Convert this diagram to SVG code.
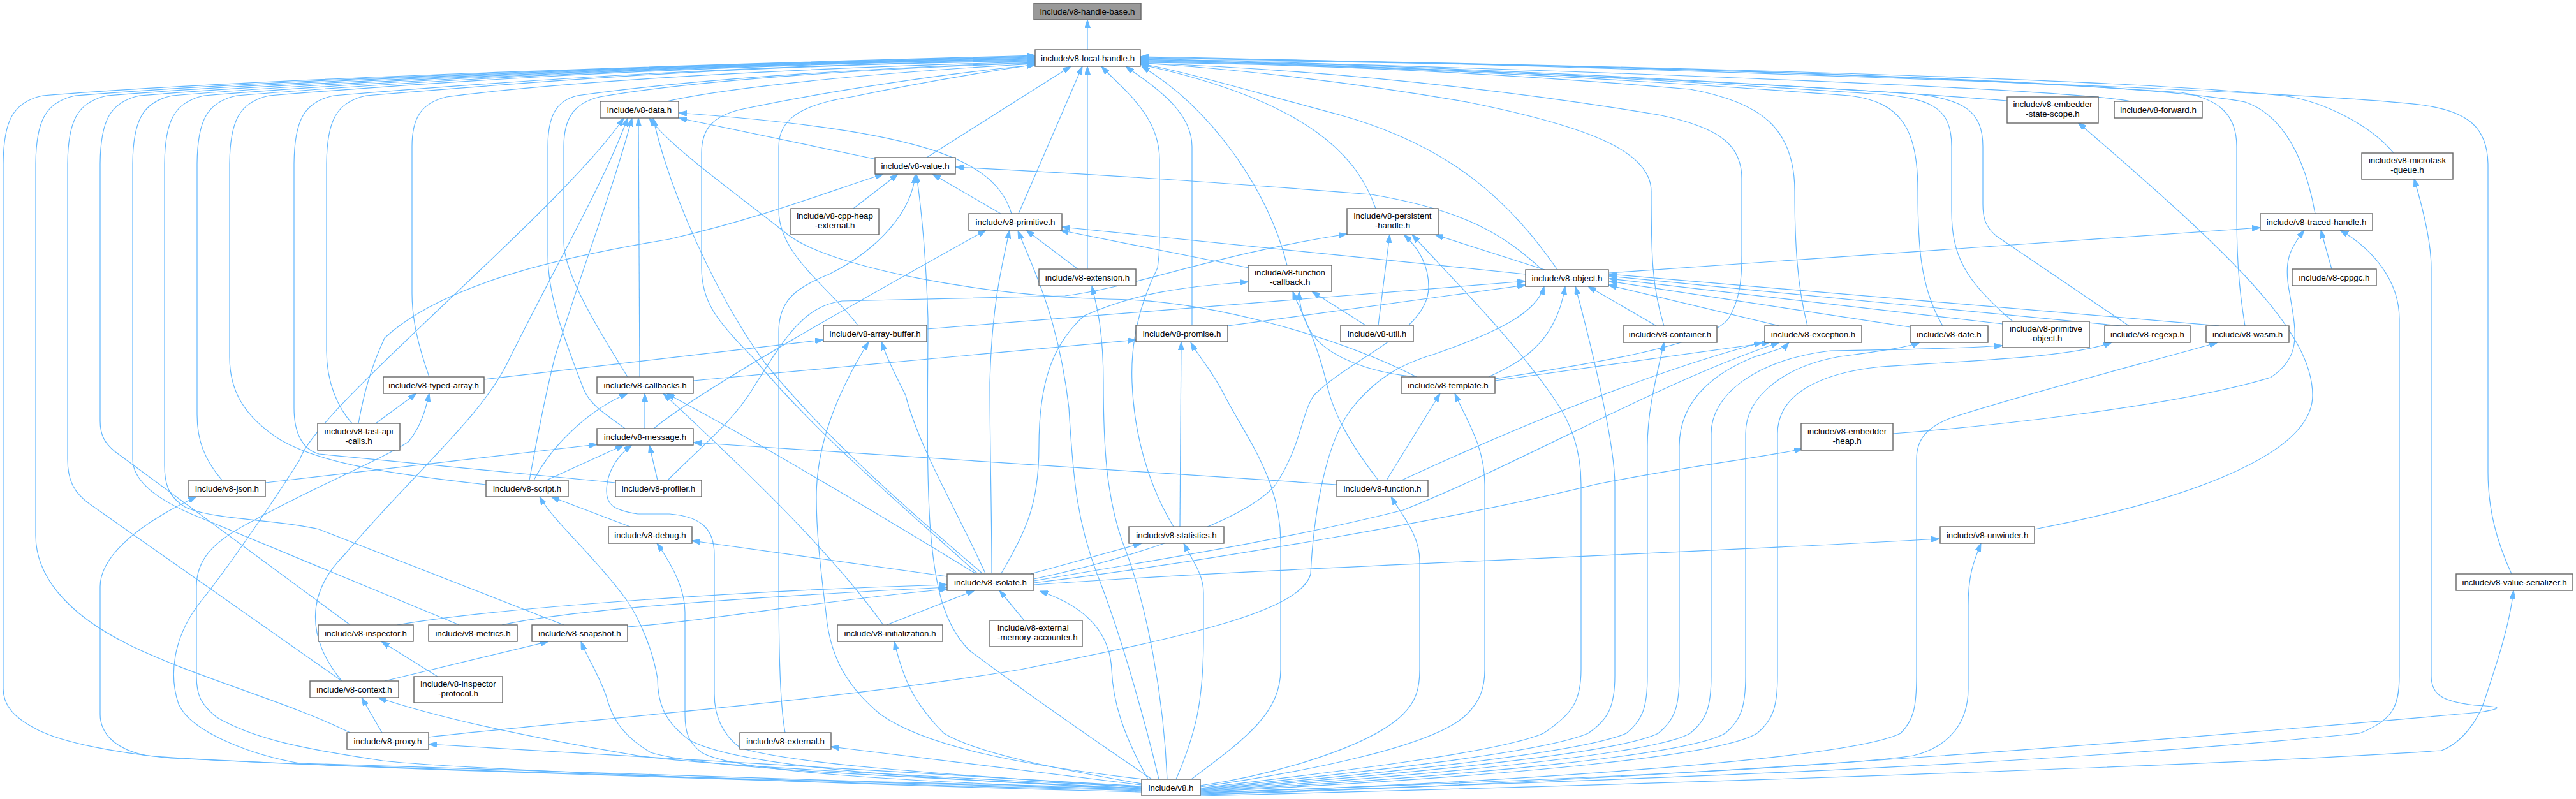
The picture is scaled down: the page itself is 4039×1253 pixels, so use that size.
<svg xmlns="http://www.w3.org/2000/svg" width="4039" height="1253" viewBox="0 0 4039 1253">
<style>
.e{fill:none;stroke:#63b8ff;stroke-width:1.2;marker-end:url(#ah)}
.n rect{fill:#ffffff;stroke:#666666;stroke-width:1.4}
.n text{font-family:"Liberation Sans",Arial,Helvetica,sans-serif;font-size:13.3px;fill:#000000;text-anchor:middle}
#n-hb rect{fill:#999999}
</style>
<defs>
<marker id="ah" viewBox="0 0 13 9" refX="13" refY="4.5" markerWidth="13" markerHeight="9" markerUnits="userSpaceOnUse" orient="auto"><path d="M0,0 L13,4.5 L0,9 z" fill="#63b8ff" stroke="#63b8ff" stroke-width="1"/></marker>
</defs>
<rect x="0" y="0" width="4039" height="1253" fill="#ffffff"/>
<g id="edges">
<path class="e" d="M1705,78 L1705,31"/>
<path class="e" d="M1790,1238 C1400,1228 700,1210 268,1189 C180,1180 100,1165 60,1145 C20,1125 5,1105 5,1080 L5,260 C5,190 20,160 67,150 C405,122 1150,100 1623,87"/>
<path class="e" d="M549,1149 C450,1100 300,1060 200,1010 C100,960 56,900 56,840 L56,260 C56,190 71,160 118,150 C456,122 1150,100 1623,88"/>
<path class="e" d="M536,1068 L140,790 C115,772 106,752 106,720 L106,260 C106,190 121,160 168,150 C506,122 1150,100 1623,89"/>
<path class="e" d="M549,980 L180,708 C164,695 157,682 157,660 L157,260 C157,190 172,160 219,150 C557,122 1150,100 1623,90"/>
<path class="e" d="M720,980 L300,806 C240,780 208,752 208,720 L208,260 C208,190 223,160 270,150 C608,122 1150,100 1623,91"/>
<path class="e" d="M884,980 L500,830 C440,815 330,815 290,795 C265,780 258,760 258,730 L258,260 C258,190 273,160 320,150 C658,122 1150,100 1623,92"/>
<path class="e" d="M348,753 C320,720 309,690 309,650 L309,260 C309,190 324,160 371,150 C709,122 1150,100 1623,93"/>
<path class="e" d="M762,760 C600,742 500,725 440,690 C380,652 360,610 360,560 L360,260 C360,190 375,160 422,150 C760,122 1150,100 1623,94"/>
<path class="e" d="M965,757 L500,712 C475,705 461,680 461,640 L461,260 C461,190 476,160 523,150 C861,122 1200,101 1623,95"/>
<path class="e" d="M552,664 C530,640 512,600 512,550 L512,260 C512,190 527,160 574,150 C912,122 1200,101 1623,96"/>
<path class="e" d="M673,591 C655,540 646,500 646,460 L646,230 C646,185 660,162 700,152 C900,125 1300,105 1623,97"/>
<path class="e" d="M980,672 C950,650 925,635 915,610 C880,520 859,460 859,400 L859,230 C859,182 872,158 905,150 C1100,122 1400,105 1623,98"/>
<path class="e" d="M984,591 C940,520 884,430 884,380 L884,230 C884,185 900,162 940,152 C1100,124 1400,106 1623,99"/>
<path class="e" d="M1045,159 C1150,135 1400,112 1623,100"/>
<path class="e" d="M1345,510 C1300,450 1221,400 1221,330 L1221,230 C1221,190 1250,165 1335,152 C1450,128 1550,112 1623,101"/>
<path class="e" d="M1532,899 C1400,780 1280,680 1180,560 C1120,500 1100,470 1100,420 L1100,240 C1100,200 1120,182 1160,172 C1300,142 1500,113 1623,102"/>
<path class="e" d="M1453,247 L1679,104"/>
<path class="e" d="M1597,335 L1697,104"/>
<path class="e" d="M1705,422 L1705,104"/>
<path class="e" d="M1840,826 C1800,760 1778,680 1775,600 C1772,530 1790,470 1815,420 C1818,400 1818,390 1818,380 L1818,250 C1818,180 1760,140 1727,104"/>
<path class="e" d="M1869,510 L1869,230 C1869,170 1800,130 1765,104"/>
<path class="e" d="M2018,416 C1990,300 1900,170 1790,104"/>
<path class="e" d="M2157,327 C2130,250 2060,160 1788,101"/>
<path class="e" d="M2442,423 C2370,320 2280,230 2100,180 C1950,140 1850,110 1788,100"/>
<path class="e" d="M2609,511 C2590,450 2589,400 2589,300 C2589,240 2500,200 2300,160 C2100,125 1900,105 1788,99"/>
<path class="e" d="M2344,594 C2500,570 2680,540 2710,500 C2728,470 2731,440 2731,400 L2731,280 C2731,230 2700,200 2600,180 C2300,130 2000,106 1788,99"/>
<path class="e" d="M2834,511 C2818,450 2814,380 2814,300 C2814,200 2760,160 2650,140 C2300,110 2000,100 1788,98"/>
<path class="e" d="M3046,511 C3010,450 3007,380 3007,300 C3007,200 2980,160 2900,150 C2500,120 2100,100 1788,97"/>
<path class="e" d="M3156,504 C3080,440 3060,400 3060,330 L3060,230 C3060,170 3030,155 2950,148 C2500,118 2100,99 1788,96"/>
<path class="e" d="M3338,511 L3130,370 C3112,355 3109,340 3109,320 L3109,230 C3109,175 3080,155 3000,147 C2500,115 2100,98 1788,95"/>
<path class="e" d="M3520,511 C3510,450 3507,400 3507,330 L3507,230 C3507,180 3480,155 3420,145 C2900,110 2200,96 1788,94"/>
<path class="e" d="M3147,158 C2800,130 2200,105 1788,93"/>
<path class="e" d="M3341,159 C3250,140 2500,110 1788,92"/>
<path class="e" d="M3630,335 C3615,250 3580,180 3520,160 C3300,120 2400,100 1788,91"/>
<path class="e" d="M3753,240 C3720,200 3650,160 3580,150 C3300,120 2400,100 1788,90"/>
<path class="e" d="M3938,900 C3915,850 3901,800 3901,740 L3901,260 C3901,200 3870,175 3800,165 C3600,140 2400,100 1788,89"/>
<path class="e" d="M1375,250 L1064,185"/>
<path class="e" d="M1586,335 C1560,250 1450,205 1064,177"/>
<path class="e" d="M1569,335 L1462,273"/>
<path class="e" d="M1338,327 L1408,273"/>
<path class="e" d="M1690,422 L1609,361"/>
<path class="e" d="M1958,420 L1662,361"/>
<path class="e" d="M2418,423 C2360,370 2300,330 2150,305 C1900,285 1700,272 1498,262"/>
<path class="e" d="M2392,430 L1665,356"/>
<path class="e" d="M2422,423 L2250,368"/>
<path class="e" d="M2523,428 L3544,357"/>
<path class="e" d="M3656,422 L3639,361"/>
<path class="e" d="M1453,516 L2392,441"/>
<path class="e" d="M1925,511 L2392,447"/>
<path class="e" d="M1850,826 L1852,536"/>
<path class="e" d="M2141,510 L2057,457"/>
<path class="e" d="M2161,510 L2179,368"/>
<path class="e" d="M2597,511 L2490,449"/>
<path class="e" d="M2790,511 L2522,447"/>
<path class="e" d="M2995,513 L2523,441"/>
<path class="e" d="M3140,508 L2523,437"/>
<path class="e" d="M3325,511 L2523,433"/>
<path class="e" d="M3480,511 L2523,430"/>
<path class="e" d="M759,595 L1291,533"/>
<path class="e" d="M1003,591 L1001,185"/>
<path class="e" d="M1087,597 L1781,533"/>
<path class="e" d="M2334,591 C2380,570 2440,540 2454,449"/>
<path class="e" d="M2221,591 C2150,585 2080,560 2055,520 C2040,495 2037,475 2037,457"/>
<path class="e" d="M2344,597 L2775,537"/>
<path class="e" d="M2221,591 C2100,530 1900,470 1737,469 C1550,465 1300,420 1234,367 C1150,300 1050,230 1018,185"/>
<path class="e" d="M589,664 L653,617"/>
<path class="e" d="M562,664 C570,620 580,580 603,530 C700,440 900,400 1050,375 C1200,340 1300,300 1385,273"/>
<path class="e" d="M1011,672 L1011,617"/>
<path class="e" d="M1025,672 C1100,610 1350,470 1546,361"/>
<path class="e" d="M2968,680 C3100,670 3400,640 3560,592 C3610,560 3600,520 3590,460 C3580,410 3590,390 3613,361"/>
<path class="e" d="M416,757 L936,697"/>
<path class="e" d="M837,753 C870,690 930,640 984,617"/>
<path class="e" d="M830,753 C840,700 850,640 870,560 C920,400 960,300 991,185"/>
<path class="e" d="M857,753 L978,698"/>
<path class="e" d="M1031,753 L1018,698"/>
<path class="e" d="M1047,753 C1100,700 1150,660 1180,610 C1230,530 1260,480 1320,472 L1670,464 C1780,450 1900,400 2112,367"/>
<path class="e" d="M2161,753 C2120,700 2090,650 2080,600 C2060,520 2035,480 2027,457"/>
<path class="e" d="M2174,753 L2258,617"/>
<path class="e" d="M2096,760 L1087,694"/>
<path class="e" d="M2198,753 C2400,660 2600,580 2763,537"/>
<path class="e" d="M988,826 L864,779"/>
<path class="e" d="M3190,830 C3400,790 3626,720 3626,620 C3626,520 3500,400 3258,192"/>
<path class="e" d="M1485,904 L1085,848"/>
<path class="e" d="M1529,899 C1400,820 1200,700 1045,617"/>
<path class="e" d="M1540,899 C1400,780 1290,680 1200,570 C1120,460 1050,300 1024,185"/>
<path class="e" d="M1545,899 C1500,800 1440,700 1420,620 C1400,580 1390,560 1382,536"/>
<path class="e" d="M1555,899 C1555,800 1552,700 1552,600 C1555,480 1570,420 1583,361"/>
<path class="e" d="M1570,899 C1610,830 1629,790 1629,700 C1629,600 1650,540 1700,495 C1780,460 1850,450 1957,442"/>
<path class="e" d="M1621,908 C1800,870 1960,810 2000,760 C2040,700 2040,650 2060,620 C2120,560 2240,520 2240,450 C2240,410 2220,385 2201,368"/>
<path class="e" d="M1616,900 L1790,852"/>
<path class="e" d="M1621,911 C1800,880 2000,850 2200,800 C2400,720 2600,600 2790,537"/>
<path class="e" d="M1621,914 C1900,880 2300,810 2500,760 C2650,730 2750,720 2826,704"/>
<path class="e" d="M1621,917 C2000,890 2600,870 3041,845"/>
<path class="e" d="M1390,980 L1528,926"/>
<path class="e" d="M1385,980 C1300,860 1150,720 1040,617"/>
<path class="e" d="M1606,973 L1567,926"/>
<path class="e" d="M623,980 C800,950 1200,925 1485,917"/>
<path class="e" d="M787,980 C900,955 1200,935 1485,921"/>
<path class="e" d="M984,983 C1100,975 1300,940 1485,924"/>
<path class="e" d="M686,1061 L598,1006"/>
<path class="e" d="M603,1068 L860,1006"/>
<path class="e" d="M536,1068 C480,1000 480,930 540,870 C650,740 760,650 800,560 C880,400 950,280 984,185"/>
<path class="e" d="M599,1149 L567,1094"/>
<path class="e" d="M672,1156 C900,1130 1300,1100 1600,1050 C1850,1000 2040,960 2055,900 C2060,800 2080,690 2120,640 C2160,590 2200,570 2250,555 C2350,520 2410,490 2421,449"/>
<path class="e" d="M1231,1149 C1222,1100 1221,1000 1221,900 L1221,520 C1221,470 1250,450 1300,430 C1380,390 1430,330 1435,274"/>
<path class="e" d="M1790,1233 L672,1167"/>
<path class="e" d="M1790,1231 L1303,1171"/>
<path class="e" d="M1790,1240 C1200,1225 400,1200 230,1185 C180,1175 157,1150 157,1120 L157,920 C157,880 200,830 308,779"/>
<path class="e" d="M1790,1242 C1300,1230 700,1205 600,1193 C480,1175 400,1160 340,1125 C315,1105 308,1090 308,1060 L308,920 C308,880 330,850 400,815 C500,760 600,720 640,693 C660,670 668,640 673,617"/>
<path class="e" d="M1790,1236 C1300,1225 600,1205 470,1197 C400,1185 300,1150 280,1104 C265,1060 270,1000 315,943 C350,900 420,800 470,721 C495,640 880,330 978,185"/>
<path class="e" d="M1790,1235 C1500,1215 1250,1200 1161,1173 C1130,1150 1120,1120 1120,1088 L1120,870 C1120,830 1100,810 1050,806 L1000,806 C960,800 951,790 951,770 C951,750 960,720 991,698"/>
<path class="e" d="M1790,1237 C1400,1220 1150,1200 1080,1160 C1040,1130 1031,1100 1031,1064 C1020,1000 990,950 978,935 C930,870 870,820 846,779"/>
<path class="e" d="M1790,1239 C1400,1225 1150,1210 1100,1180 C1080,1165 1074,1150 1074,1120 L1074,960 C1074,920 1050,880 1030,852"/>
<path class="e" d="M1790,1234 C1400,1215 1100,1200 1000,1185 C850,1160 700,1130 593,1094"/>
<path class="e" d="M1790,1236 C1400,1218 1100,1205 1020,1180 C970,1150 958,1120 950,1090 C935,1050 920,1030 911,1006"/>
<path class="e" d="M1800,1222 C1760,1150 1745,1100 1743,1050 C1740,990 1700,950 1630,927"/>
<path class="e" d="M1790,1229 C1650,1205 1530,1180 1480,1150 C1430,1100 1415,1060 1402,1006"/>
<path class="e" d="M1792,1222 C1600,1200 1450,1170 1380,1120 C1320,1070 1300,1020 1295,960 C1285,880 1280,830 1280,780 C1280,700 1310,620 1362,536"/>
<path class="e" d="M1806,1222 C1700,1150 1600,1080 1520,1020 C1480,980 1465,920 1458,820 C1452,720 1455,600 1455,500 C1452,400 1445,330 1437,274"/>
<path class="e" d="M1817,1222 C1800,1150 1760,1000 1720,900 C1690,820 1683,760 1676,640 C1660,500 1620,420 1596,362"/>
<path class="e" d="M1830,1222 C1825,1100 1800,950 1760,850 C1735,780 1730,700 1730,600 C1730,520 1720,480 1712,449"/>
<path class="e" d="M1844,1222 C1875,1150 1887,1100 1887,1000 L1887,930 C1887,900 1870,880 1856,852"/>
<path class="e" d="M1868,1222 C1950,1160 2008,1120 2008,1050 L2008,850 C2008,750 1950,680 1920,620 C1900,580 1880,560 1867,537"/>
<path class="e" d="M1882,1232 C2000,1215 2150,1170 2200,1120 C2220,1100 2226,1080 2226,1050 L2226,880 C2226,840 2200,810 2181,779"/>
<path class="e" d="M1882,1234 C2050,1210 2250,1170 2300,1120 C2320,1100 2328,1080 2328,1050 L2328,760 C2328,700 2300,660 2281,617"/>
<path class="e" d="M1882,1236 C2100,1210 2350,1180 2420,1150 C2465,1120 2479,1100 2479,1050 L2479,760 C2479,700 2460,660 2440,630 C2380,540 2280,440 2214,368"/>
<path class="e" d="M1882,1237 C2150,1210 2420,1180 2490,1150 C2520,1130 2532,1110 2532,1060 L2532,760 C2532,700 2500,560 2470,449"/>
<path class="e" d="M1882,1238 C2200,1210 2480,1180 2550,1150 C2575,1130 2583,1110 2583,1060 L2583,700 C2583,640 2600,580 2609,537"/>
<path class="e" d="M1882,1239 C2250,1210 2540,1180 2600,1150 C2625,1130 2633,1110 2633,1060 L2633,700 C2633,620 2700,580 2750,560 C2780,550 2795,548 2805,537"/>
<path class="e" d="M1882,1240 C2300,1212 2600,1180 2650,1150 C2675,1130 2683,1110 2683,1060 L2683,680 C2683,620 2750,565 2870,550 C3000,548 3080,546 3140,542"/>
<path class="e" d="M1882,1241 C2350,1214 2650,1182 2705,1150 C2729,1130 2737,1110 2737,1060 L2737,680 C2737,620 2800,575 2880,560 C2950,550 2990,545 3010,537"/>
<path class="e" d="M1882,1242 C2400,1216 2700,1184 2755,1150 C2779,1130 2787,1110 2787,1060 L2787,680 C2787,620 2850,585 2950,575 C3100,565 3250,560 3311,537"/>
<path class="e" d="M1882,1244 C2400,1225 2900,1190 2980,1150 C3000,1130 3005,1110 3005,1060 L3005,720 C3005,690 3020,670 3060,655 C3200,610 3400,560 3477,537"/>
<path class="e" d="M1882,1243 C2500,1222 2900,1200 3000,1185 C3060,1170 3086,1130 3086,1080 L3086,950 C3086,900 3095,880 3106,852"/>
<path class="e" d="M1882,1245 C2600,1222 3200,1200 3700,1150 C3750,1130 3762,1110 3762,1060 L3762,500 C3762,440 3720,390 3669,361"/>
<path class="e" d="M1882,1246 C2500,1230 3300,1170 3888,1117 C3930,1110 3920,1108 3880,1106 C3830,1100 3812,1090 3812,1060 L3812,420 C3812,380 3800,330 3785,280"/>
<path class="e" d="M1882,1248 C2600,1230 3500,1200 3828,1177 C3860,1165 3885,1130 3895,1100 C3915,1040 3935,980 3941,926"/>
</g>
<g id="n-hb" class="n"><rect x="1621" y="5" width="168" height="26"/><text x="1705" y="22.5">include/v8-handle-base.h</text></g>
<g id="n-lh" class="n"><rect x="1623" y="78" width="165" height="26"/><text x="1705.5" y="95.5">include/v8-local-handle.h</text></g>
<g id="n-data" class="n"><rect x="941" y="159" width="123" height="26"/><text x="1002.5" y="176.5">include/v8-data.h</text></g>
<g id="n-ess" class="n"><rect x="3147" y="152" width="143" height="41"/><text x="3218.5" y="168">include/v8-embedder</text><text x="3218.5" y="183">-state-scope.h</text></g>
<g id="n-fwd" class="n"><rect x="3315" y="159" width="138" height="26"/><text x="3384" y="176.5">include/v8-forward.h</text></g>
<g id="n-val" class="n"><rect x="1372" y="247" width="126" height="26"/><text x="1435" y="264.5">include/v8-value.h</text></g>
<g id="n-mtq" class="n"><rect x="3703" y="240" width="143" height="41"/><text x="3774.5" y="256">include/v8-microtask</text><text x="3774.5" y="271">-queue.h</text></g>
<g id="n-cph" class="n"><rect x="1240" y="327" width="138" height="41"/><text x="1309" y="343">include/v8-cpp-heap</text><text x="1309" y="358">-external.h</text></g>
<g id="n-prim" class="n"><rect x="1519" y="335" width="146" height="26"/><text x="1592" y="352.5">include/v8-primitive.h</text></g>
<g id="n-ph" class="n"><rect x="2112" y="327" width="143" height="41"/><text x="2183.5" y="343">include/v8-persistent</text><text x="2183.5" y="358">-handle.h</text></g>
<g id="n-th" class="n"><rect x="3544" y="335" width="176" height="26"/><text x="3632" y="352.5">include/v8-traced-handle.h</text></g>
<g id="n-ext" class="n"><rect x="1629" y="422" width="152" height="26"/><text x="1705" y="439.5">include/v8-extension.h</text></g>
<g id="n-fc" class="n"><rect x="1957" y="416" width="131" height="41"/><text x="2022.5" y="432">include/v8-function</text><text x="2022.5" y="447">-callback.h</text></g>
<g id="n-obj" class="n"><rect x="2392" y="423" width="130" height="26"/><text x="2457" y="440.5">include/v8-object.h</text></g>
<g id="n-cppgc" class="n"><rect x="3594" y="422" width="132" height="26"/><text x="3660" y="439.5">include/v8-cppgc.h</text></g>
<g id="n-ab" class="n"><rect x="1291" y="510" width="162" height="26"/><text x="1372" y="527.5">include/v8-array-buffer.h</text></g>
<g id="n-prom" class="n"><rect x="1781" y="510" width="144" height="26"/><text x="1853" y="527.5">include/v8-promise.h</text></g>
<g id="n-util" class="n"><rect x="2102" y="510" width="114" height="26"/><text x="2159" y="527.5">include/v8-util.h</text></g>
<g id="n-cont" class="n"><rect x="2545" y="511" width="147" height="26"/><text x="2618.5" y="528.5">include/v8-container.h</text></g>
<g id="n-exc" class="n"><rect x="2767" y="511" width="152" height="26"/><text x="2843" y="528.5">include/v8-exception.h</text></g>
<g id="n-date" class="n"><rect x="2995" y="511" width="122" height="26"/><text x="3056" y="528.5">include/v8-date.h</text></g>
<g id="n-po" class="n"><rect x="3140" y="504" width="136" height="41"/><text x="3208" y="520">include/v8-primitive</text><text x="3208" y="535">-object.h</text></g>
<g id="n-re" class="n"><rect x="3300" y="511" width="134" height="26"/><text x="3367" y="528.5">include/v8-regexp.h</text></g>
<g id="n-wasm" class="n"><rect x="3459" y="511" width="130" height="26"/><text x="3524" y="528.5">include/v8-wasm.h</text></g>
<g id="n-ta" class="n"><rect x="601" y="591" width="158" height="26"/><text x="680" y="608.5">include/v8-typed-array.h</text></g>
<g id="n-cb" class="n"><rect x="936" y="591" width="151" height="26"/><text x="1011.5" y="608.5">include/v8-callbacks.h</text></g>
<g id="n-tpl" class="n"><rect x="2197" y="591" width="147" height="26"/><text x="2270.5" y="608.5">include/v8-template.h</text></g>
<g id="n-fac" class="n"><rect x="498" y="664" width="129" height="42"/><text x="562.5" y="681">include/v8-fast-api</text><text x="562.5" y="696">-calls.h</text></g>
<g id="n-msg" class="n"><rect x="936" y="672" width="151" height="26"/><text x="1011.5" y="689.5">include/v8-message.h</text></g>
<g id="n-eh" class="n"><rect x="2824" y="664" width="144" height="42"/><text x="2896" y="681">include/v8-embedder</text><text x="2896" y="696">-heap.h</text></g>
<g id="n-json" class="n"><rect x="296" y="753" width="120" height="26"/><text x="356" y="770.5">include/v8-json.h</text></g>
<g id="n-scr" class="n"><rect x="762" y="753" width="129" height="26"/><text x="826.5" y="770.5">include/v8-script.h</text></g>
<g id="n-prof" class="n"><rect x="965" y="753" width="135" height="26"/><text x="1032.5" y="770.5">include/v8-profiler.h</text></g>
<g id="n-fn" class="n"><rect x="2096" y="753" width="143" height="26"/><text x="2167.5" y="770.5">include/v8-function.h</text></g>
<g id="n-dbg" class="n"><rect x="954" y="826" width="131" height="26"/><text x="1019.5" y="843.5">include/v8-debug.h</text></g>
<g id="n-stat" class="n"><rect x="1770" y="826" width="149" height="26"/><text x="1844.5" y="843.5">include/v8-statistics.h</text></g>
<g id="n-unw" class="n"><rect x="3042" y="826" width="148" height="26"/><text x="3116" y="843.5">include/v8-unwinder.h</text></g>
<g id="n-iso" class="n"><rect x="1485" y="900" width="136" height="26"/><text x="1553" y="917.5">include/v8-isolate.h</text></g>
<g id="n-vs" class="n"><rect x="3851" y="900" width="183" height="26"/><text x="3942.5" y="917.5">include/v8-value-serializer.h</text></g>
<g id="n-insp" class="n"><rect x="499" y="980" width="149" height="26"/><text x="573.5" y="997.5">include/v8-inspector.h</text></g>
<g id="n-met" class="n"><rect x="672" y="980" width="139" height="26"/><text x="741.5" y="997.5">include/v8-metrics.h</text></g>
<g id="n-snap" class="n"><rect x="834" y="980" width="150" height="26"/><text x="909" y="997.5">include/v8-snapshot.h</text></g>
<g id="n-init" class="n"><rect x="1313" y="980" width="165" height="26"/><text x="1395.5" y="997.5">include/v8-initialization.h</text></g>
<g id="n-ema" class="n"><rect x="1552" y="973" width="145" height="41"/><text x="1564" y="989" style="text-anchor:start">include/v8-external</text><text x="1564" y="1004" style="text-anchor:start">-memory-accounter.h</text></g>
<g id="n-ctx" class="n"><rect x="486" y="1068" width="139" height="26"/><text x="555.5" y="1085.5">include/v8-context.h</text></g>
<g id="n-ip" class="n"><rect x="649" y="1061" width="139" height="41"/><text x="718.5" y="1077">include/v8-inspector</text><text x="718.5" y="1092">-protocol.h</text></g>
<g id="n-proxy" class="n"><rect x="544" y="1149" width="128" height="26"/><text x="608" y="1166.5">include/v8-proxy.h</text></g>
<g id="n-extl" class="n"><rect x="1160" y="1149" width="143" height="26"/><text x="1231.5" y="1166.5">include/v8-external.h</text></g>
<g id="n-v8" class="n"><rect x="1790" y="1222" width="92" height="26"/><text x="1836" y="1239.5">include/v8.h</text></g>
</svg>
